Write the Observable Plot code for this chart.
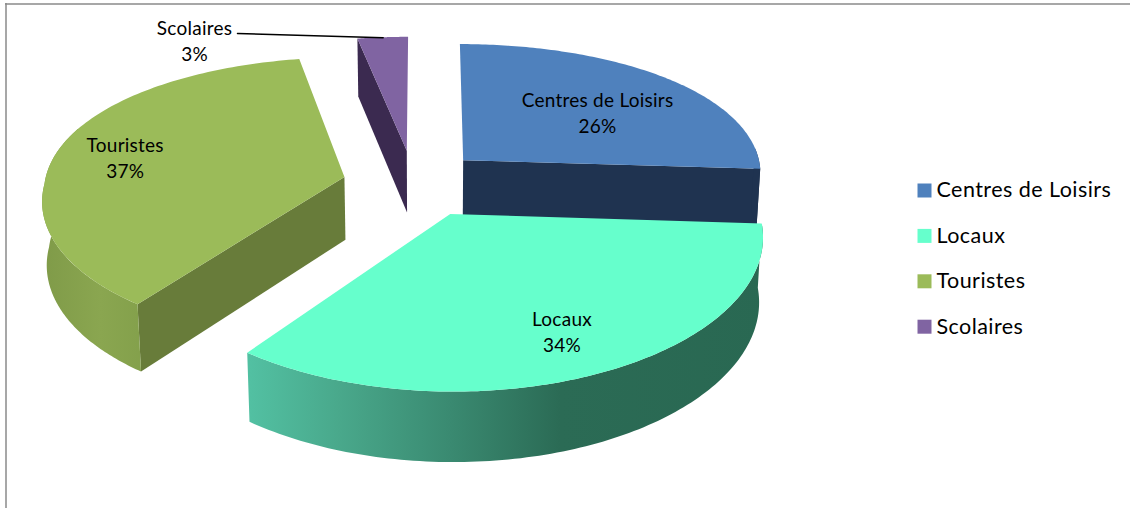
<!DOCTYPE html>
<html>
<head>
<meta charset="utf-8">
<script src="https://cdn.jsdelivr.net/npm/d3@7"></script>
<script src="https://cdn.jsdelivr.net/npm/@observablehq/plot@0.6"></script>
<style>
html,body{margin:0;padding:0;background:#fff}
svg{display:block}
.pie-label text{letter-spacing:.25px}
.legend-label text{letter-spacing:.45px}
</style>
</head>
<body>
<div id="chart"></div>
<script>
// ---- data ----
const categories = ["Centres de Loisirs", "Locaux", "Touristes", "Scolaires"];
const percents = [26, 34, 37, 3];
const topColors = ["#4f81bd", "#66ffcc", "#9bbb59", "#8064a2"];
const radialColors = ["#1f3350", "#2b6b55", "#687c3a", "#3b2a50"];

// ---- projection of the tilted pie onto the page ----
const view = {x0: 413, y0: 182, xv: 423, k: 0.153, kxNear: 0.14, kxFar: 0.09, H: 916, a: 300, explode: 0.232, xc: 430, lean: 0.012};
const sliceShift = [[0, 0], [7, 1.5], [-1, 2], [0, 0]];
const project = (u, v, lowered = false) => {
  const s = 1 / (1 - view.k * v);
  const sx = 1 / (1 - (v < 0 ? view.kxFar : view.kxNear) * v);
  const yv = view.y0 - view.H;
  let x = view.xv + (view.x0 + view.a * u - view.xv) * sx;
  let y = yv + (view.y0 - yv) * s;
  if (lowered) { y += 30 + 33 * s; x -= (x - view.xc) * view.lean; }
  return [x, y];
};

// ---- slices from the values ----
const total = d3.sum(percents);
let running = 0;
const slices = categories.map((name, i) => {
  const start = running / total * 2 * Math.PI;
  running += percents[i];
  const end = running / total * 2 * Math.PI;
  const mid = (start + end) / 2;
  return {name, pct: percents[i], i, start, end, mid,
    ou: Math.sin(mid) * view.explode, ov: -Math.cos(mid) * view.explode};
});
const polar = (sl, t, r, lowered) => {
  const [x, y] = project(sl.ou + r * Math.sin(t), sl.ov - r * Math.cos(t), lowered);
  return [x + sliceShift[sl.i][0], y + sliceShift[sl.i][1]];
};
const rimAngles = (a, b) => d3.range(0, 121).map(j => a + (b - a) * j / 120);

const sliceMarks = sl => {
  const marks = [];
  const apexTop = polar(sl, 0, 0, false);
  const radial = t => {
    marks.push(Plot.area([0, 1], {
      x1: r => polar(sl, t, r, false)[0], y1: r => polar(sl, t, r, false)[1],
      x2: r => polar(sl, t, r, true)[0], y2: r => polar(sl, t, r, true)[1],
      fill: radialColors[sl.i]
    }));
  };
  if (Math.sin(sl.start) < -1e-6) radial(sl.start);
  if (Math.sin(sl.end) > 1e-6) radial(sl.end);
  // outer wall: only the part of the rim that faces the viewer
  const a = Math.max(sl.start, Math.PI * 0.47), b = Math.min(sl.end, Math.PI * 1.62);
  if (b > a) {
    marks.push(Plot.area(rimAngles(a, b), {
      x1: t => polar(sl, t, 1, false)[0], y1: t => polar(sl, t, 1, false)[1],
      x2: t => polar(sl, t, 1, true)[0], y2: t => polar(sl, t, 1, true)[1],
      fill: sl.i === 1 ? "url(#wallLocaux)" : sl.i === 2 ? "url(#wallTouristes)" : radialColors[sl.i]
    }));
  }
  // top face: a fan between the rim and the apex
  marks.push(Plot.area(rimAngles(sl.start, sl.end), {
    x1: t => polar(sl, t, 1, false)[0], y1: t => polar(sl, t, 1, false)[1],
    x2: () => apexTop[0], y2: () => apexTop[1],
    fill: topColors[sl.i]
  }));
  return marks;
};

const paintOrder = [3, 0, 2, 1];

// gradients for the rounded walls
const gradient = (id, stops) => {
  const g = d3.create("svg:linearGradient").attr("id", id)
    .attr("gradientUnits", "userSpaceOnUse");
  g.attr("x1", stops[0][0]).attr("x2", stops[stops.length - 1][0]).attr("y1", 0).attr("y2", 0);
  const x0 = stops[0][0], w = stops[stops.length - 1][0] - x0;
  stops.forEach(([x, c]) => g.append("stop").attr("offset", (x - x0) / w).attr("stop-color", c));
  return g.node();
};
const defsMark = () => {
  const defs = d3.create("svg:defs");
  defs.append(() => gradient("wallLocaux", [[250, "#52c0a2"], [340, "#49a88b"], [450, "#3a8a71"], [560, "#2b6b55"], [770, "#296852"]]));
  defs.append(() => gradient("wallTouristes", [[40, "#7f9a48"], [100, "#8aa650"], [145, "#83a04b"]]));
  return defs.node();
};

// labels sit near each slice's bisector
const labelRadius = [0.61, 0.76, 0.765];
const labelTurn = [4, 0.5, -1].map(d => d * Math.PI / 180);
const font = "Lato, Carlito, 'Open Sans', sans-serif";
const insideLabels = slices.slice(0, 3).map((sl, i) => {
  const p = polar(sl, sl.mid + labelTurn[i], labelRadius[i]);
  return {text: `${sl.name}\n${sl.pct}%`, x: p[0], y: p[1]};
});
const callout = {text: `${categories[3]}\n${percents[3]}%`, x: 194, y: 39};
const calloutFrom = [237, 33];
const calloutTo = polar(slices[3], slices[3].mid, 1);

// legend rows
const legendRows = categories.map((name, i) => ({name, color: topColors[i], row: i}));
const legendY = row => 190 + row * 45.4;

const chart = Plot.plot({
  width: 1130, height: 508, margin: 0,
  x: {domain: [0, 1130], range: [0, 1130], axis: null},
  y: {domain: [0, 508], range: [0, 508], axis: null},
  style: {background: "#fff", fontFamily: font},
  marks: [
    defsMark,
    Plot.ruleY([3.5], {x1: 5, x2: 1130, stroke: "#8a8a8a", strokeWidth: 1.5}),
    Plot.ruleX([5.5], {y1: 3, y2: 508, stroke: "#8a8a8a", strokeWidth: 1.5}),
    ...paintOrder.flatMap(i => sliceMarks(slices[i])),
    Plot.text(insideLabels, {x: "x", y: "y", text: "text", fontSize: 19, lineHeight: 1.37, fill: "#000", className: "pie-label"}),
    Plot.text([callout], {x: "x", y: "y", text: "text", fontSize: 19, lineHeight: 1.37, fill: "#000", className: "pie-label"}),
    Plot.line([calloutFrom, calloutTo], {x: d => d[0], y: d => d[1], stroke: "#000", strokeWidth: 1.5}),
    Plot.dot(legendRows, {x: () => 924, y: d => legendY(d.row), symbol: "square", r: 7.9, fill: "color", stroke: "none"}),
    Plot.text(legendRows, {x: () => 936, y: d => legendY(d.row), text: "name", textAnchor: "start", fontSize: 21.5, fill: "#000", className: "legend-label"})
  ]
});
document.getElementById("chart").appendChild(chart);
</script>
</body>
</html>
